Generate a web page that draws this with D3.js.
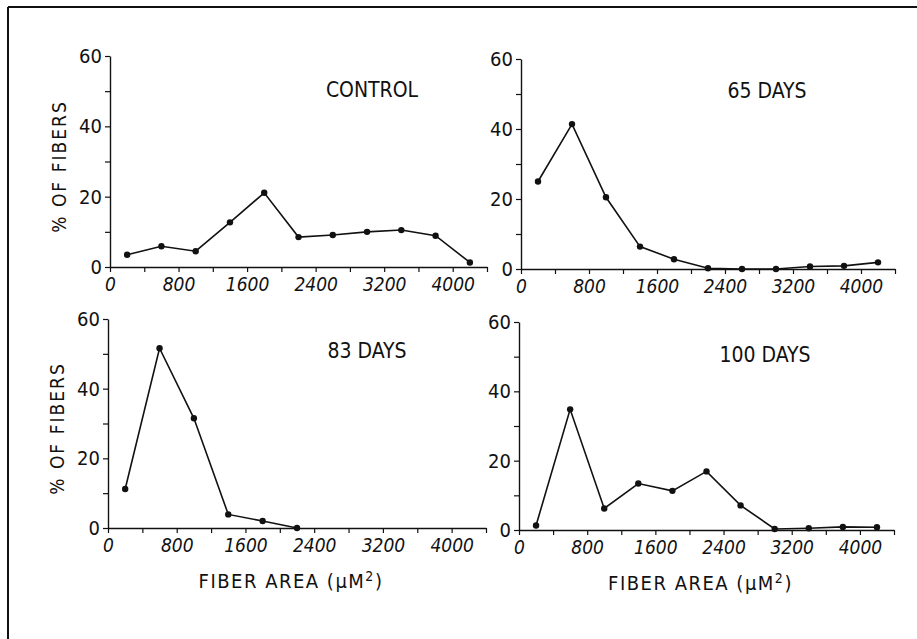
<!DOCTYPE html>
<html>
<head>
<meta charset="utf-8">
<script src="https://cdn.jsdelivr.net/npm/d3@7"></script>
<style>
body { margin: 0; background: #fff; }
svg { display: block; }
text { font-family: "Liberation Sans Narrow", "DejaVu Sans Condensed", "Liberation Sans", Arial, sans-serif; fill: #111; }
</style>
</head>
<body>
<div id="chart"></div>
<script>
// fiber area bins (um^2, bin centres)
var fiberArea = [200, 600, 1000, 1400, 1800, 2200, 2600, 3000, 3400, 3800, 4200]
// % of fibers per bin
var control = [3.5, 5.9, 4.5, 12.7, 21.1, 8.5, 9.1, 10.0, 10.5, 8.9, 1.3]
var days65 = [25.0, 41.4, 20.5, 6.4, 2.8, 0.2, 0, 0, 0.7, 0.9, 1.9]
var days83 = [11.2, 51.6, 31.5, 3.9, 2.0, 0]
var days100 = [1.3, 34.8, 6.2, 13.4, 11.3, 16.9, 7.1, 0.3, 0.5, 0.9, 0.8]

var panelTitles = ["CONTROL", "65 DAYS", "83 DAYS", "100 DAYS"]
var xTicks = [0, 400, 800, 1200, 1600, 2000, 2400, 2800, 3200, 3600, 4000, 4400]
var xLabels = [0, 800, 1600, 2400, 3200, 4000]
var yTicks = [0, 10, 20, 30, 40, 50, 60]
var yLabels = [0, 20, 40, 60]

var width = 917, height = 639

var svg = d3.select("#chart").append("svg")
  .attr("width", width)
  .attr("height", height)

// page frame (top and left edges only, as in the scan)
svg.append("line")
  .attr("x1", 8).attr("y1", 7).attr("x2", width).attr("y2", 7)
  .attr("stroke", "#111").attr("stroke-width", 2)
svg.append("line")
  .attr("x1", 8).attr("y1", 7).attr("x2", 8).attr("y2", height)
  .attr("stroke", "#111").attr("stroke-width", 2)

var panels = [
  { title: panelTitles[0], values: control, x0: 110, x1: 487, y0: 267, y1: 56, tx: 372, ty: 97, yLabel: true, xLabel: false },
  { title: panelTitles[1], values: days65, x0: 521, x1: 895, y0: 269, y1: 59, tx: 767, ty: 98, yLabel: false, xLabel: false },
  { title: panelTitles[2], values: days83, x0: 108, x1: 486, y0: 528, y1: 319, tx: 367, ty: 358, yLabel: true, xLabel: true },
  { title: panelTitles[3], values: days100, x0: 519, x1: 894, y0: 530, y1: 322, tx: 765, ty: 362, yLabel: false, xLabel: true }
]

panels.forEach(function (p) {
  var x = d3.scaleLinear().domain([0, 4400]).range([p.x0, p.x1])
  var y = d3.scaleLinear().domain([0, 60]).range([p.y0, p.y1])

  var g = svg.append("g")

  var xAxis = d3.axisBottom(x)
    .tickValues(xTicks)
    .tickSize(5)
    .tickSizeOuter(0)
    .tickPadding(6)
    .tickFormat(function (d) { return xLabels.indexOf(d) >= 0 ? d : "" })
  var gx = g.append("g")
    .attr("transform", "translate(0," + p.y0 + ")")
    .call(xAxis)
  gx.select(".domain").attr("stroke", "#111").attr("stroke-width", 1.6)
  gx.selectAll(".tick line").attr("stroke", "#111").attr("stroke-width", 1.2)
  gx.selectAll(".tick text")
    .attr("font-size", 19)
    .attr("fill", "#111")
    .style("font-style", "italic")

  var yAxis = d3.axisLeft(y)
    .tickValues(yTicks)
    .tickSize(5)
    .tickSizeOuter(0)
    .tickPadding(3)
    .tickFormat(function (d) { return yLabels.indexOf(d) >= 0 ? d : "" })
  var gy = g.append("g")
    .attr("transform", "translate(" + p.x0 + ",0)")
    .call(yAxis)
  gy.select(".domain").attr("stroke", "#111").attr("stroke-width", 1.4)
  gy.selectAll(".tick line").attr("stroke", "#111").attr("stroke-width", 1.2)
  gy.selectAll(".tick text")
    .attr("font-size", 20)
    .attr("fill", "#111")

  var line = d3.line()
    .x(function (d, i) { return x(fiberArea[i]) })
    .y(function (d) { return y(d) })

  g.append("path")
    .datum(p.values)
    .attr("fill", "none")
    .attr("stroke", "#111")
    .attr("stroke-width", 1.6)
    .attr("d", line)

  g.selectAll("circle.pt")
    .data(p.values)
    .enter().append("circle")
    .attr("class", "pt")
    .attr("cx", function (d, i) { return x(fiberArea[i]) })
    .attr("cy", function (d) { return y(d) })
    .attr("r", 3.2)
    .attr("fill", "#111")

  g.append("text")
    .attr("x", p.tx)
    .attr("y", p.ty)
    .attr("text-anchor", "middle")
    .attr("font-size", 21)
    .text(p.title)

  if (p.yLabel) {
    g.append("text")
      .attr("transform", "translate(" + (p.x0 - 44) + "," + ((p.y0 + p.y1) / 2 + 5) + ") rotate(-90)")
      .attr("text-anchor", "middle")
      .attr("font-size", 19)
      .attr("letter-spacing", 2)
      .text("% OF FIBERS")
  }

  if (p.xLabel) {
    var lbl = g.append("text")
      .attr("x", (p.x0 + p.x1) / 2 - 6)
      .attr("y", p.y0 + 60)
      .attr("text-anchor", "middle")
      .attr("font-size", 20)
      .attr("letter-spacing", 1.5)
    lbl.append("tspan").text("FIBER AREA (\u03bcM")
    lbl.append("tspan").attr("dy", -7).attr("font-size", 14).text("2")
    lbl.append("tspan").attr("dy", 7).text(")")
  }
})
</script>
</body>
</html>
